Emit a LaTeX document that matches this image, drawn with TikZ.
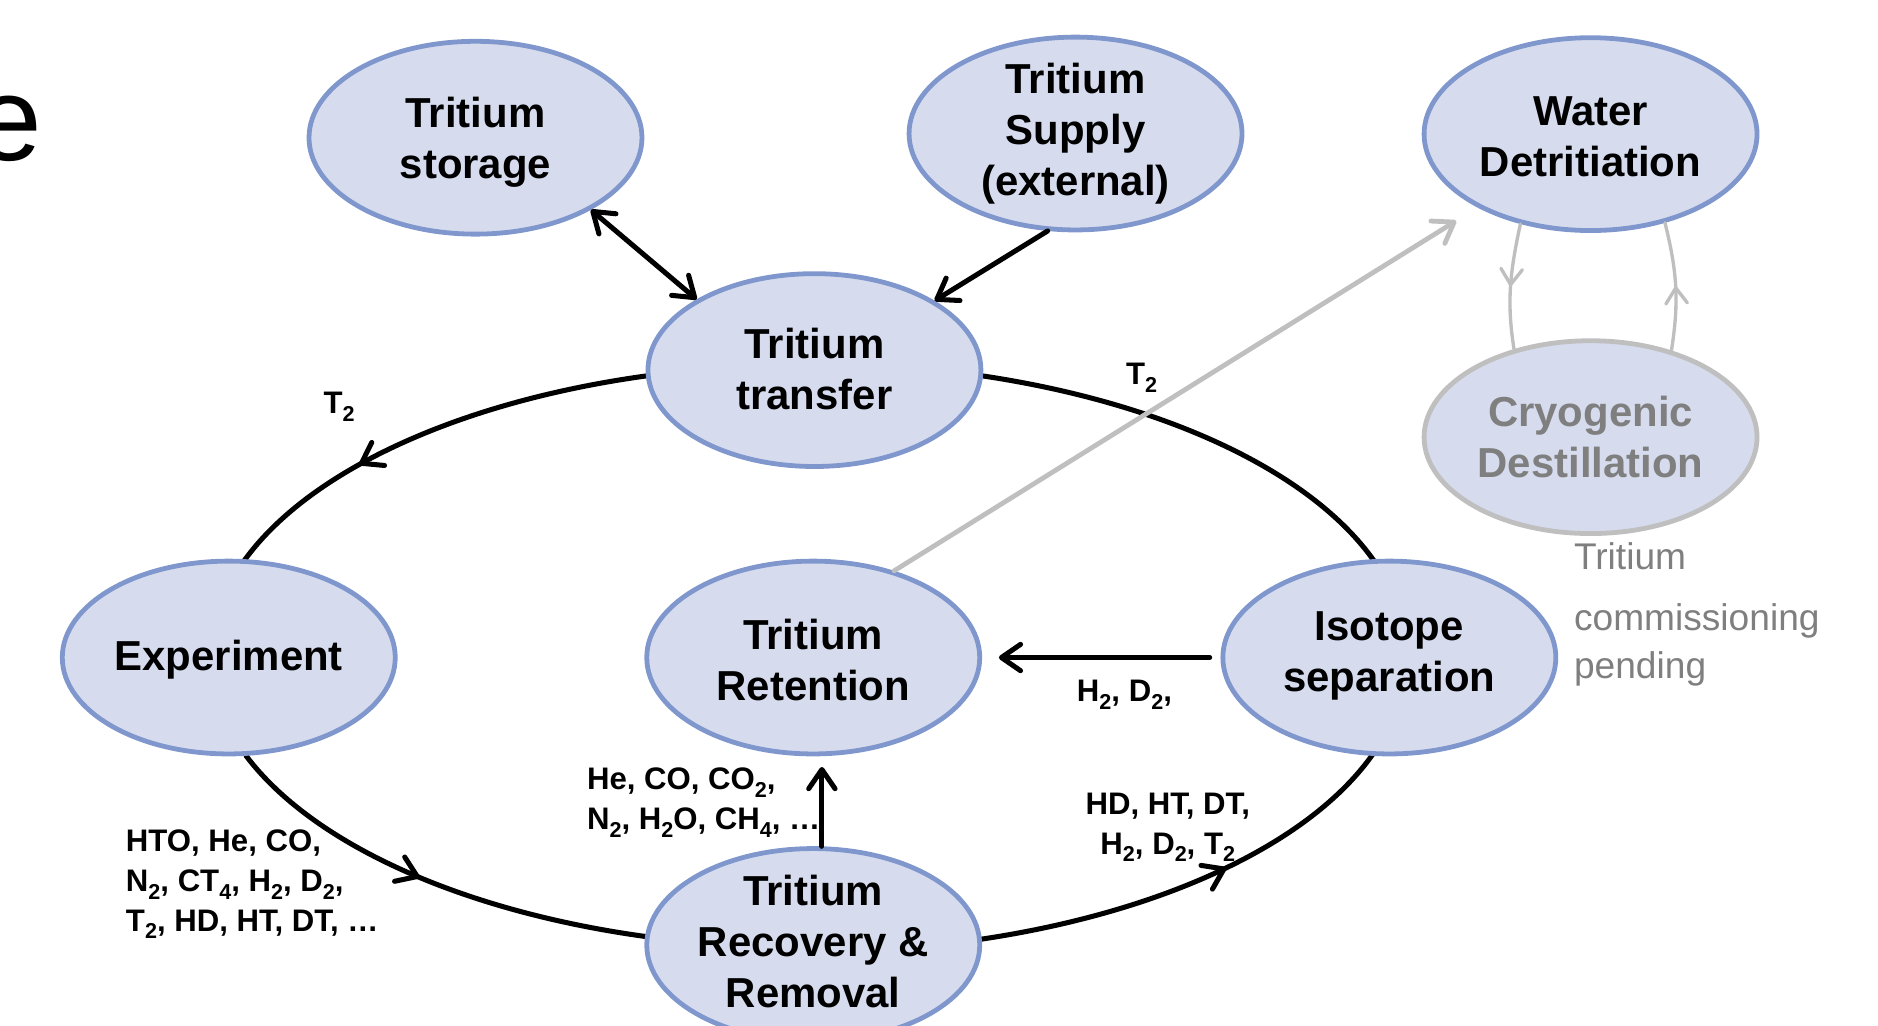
\documentclass[tikz,border=0pt]{standalone}
\usepackage{fontspec}
\setmainfont{Liberation Sans}
\usetikzlibrary{shapes.geometric, arrows.meta, decorations.markings}
\pgfdeclarelayer{background}
\pgfsetlayers{background,main}
\definecolor{cellfill}{HTML}{D6DCEE}
\definecolor{cellborder}{HTML}{7F97CC}
\definecolor{greyline}{HTML}{BFBFBF}
\definecolor{greytext}{HTML}{7F7F7F}
\newcommand\bigfont{\fontsize{35}{42.5}\selectfont\bfseries}
\newcommand\smallfont{\fontsize{26}{33}\selectfont\bfseries}
\newcommand\notefont{\fontsize{31}{40}\selectfont}
\newcommand\titlefont{\fontsize{100}{110}\selectfont}
\newcommand\chemsub[1]{\raisebox{-6.5pt}{\fontsize{18}{18}\selectfont #1}}
\begin{document}
\begin{tikzpicture}[x=1pt,y=1pt,
  >={Straight Barb[round,length=16pt,width=22pt]},
  cell/.style={ellipse, draw=cellborder, fill=cellfill, line width=4pt,
    minimum width=278pt, minimum height=161pt, inner sep=0pt},
  greycell/.style={cell, draw=greyline},
  lbl/.style={font=\bigfont, align=center, text=black, inner sep=0pt},
  greylbl/.style={lbl, text=greytext},
  small/.style={font=\smallfont, inner sep=0pt, align=left},
  flow/.style={line width=4.2pt, line cap=round, ->},
  cyc/.style={line width=4.2pt, line cap=round},
  greyflow/.style={line width=4pt, line cap=round, draw=greyline, ->},
  greycurve/.style={line width=2.8pt, line cap=round, draw=greyline},
  blackmid/.style={postaction={decorate, decoration={markings,
    mark=at position #1 with {\arrow{>}}}}},
  greymid/.style={postaction={decorate, decoration={markings,
    mark=at position #1 with {\arrow{Straight Barb[round,length=13pt,width=18pt]}}}}}
]
\useasboundingbox (0,0) rectangle (1568,856);

% cut-off slide title letter
\node[anchor=base west, font=\titlefont, inner sep=0pt] (title) at (-21,722) {e};

% nodes
\node[cell, label={[lbl, yshift=-4pt]center:Tritium\\storage}] (storage) at (397,741) {};
\node[cell, label={[lbl]center:Tritium\\Supply\\(external)}] (supply) at (898,744.5) {};
\node[cell, label={[lbl, yshift=-2pt]center:Water\\Detritiation}] (water) at (1328,744) {};
\node[cell, label={[lbl, yshift=1pt]center:Tritium\\transfer}] (transfer) at (680,547) {};
\node[greycell, label={[greylbl]center:Cryogenic\\Destillation}] (cryo) at (1328,491) {};
\node[cell, label={[lbl, yshift=-2pt]center:Experiment}] (experiment) at (191,307) {};
\node[cell, label={[lbl, yshift=-2pt]center:Tritium\\Retention}] (retention) at (679,307) {};
\node[cell, label={[lbl, yshift=1pt]center:Isotope\\separation}] (isotope) at (1160,307) {};
\node[cell, label={[lbl, yshift=3pt]center:Tritium\\Recovery \&\\Removal}] (recovery) at (679,67) {};

% main cycle
\begin{pgfonlayer}{background}
\draw[cyc, blackmid=0.654] (transfer.182) arc[start angle=105.8, end angle=162, x radius=500, y radius=245];
\draw[cyc] (transfer.358) arc[start angle=73, end angle=18, x radius=500, y radius=245];
\draw[cyc, blackmid=0.46] (experiment.280) arc[start angle=200.3, end angle=256, x radius=500, y radius=245];
\draw[cyc, blackmid=0.569] (recovery.2) arc[start angle=287, end angle=342, x radius=500, y radius=245];
\end{pgfonlayer}

% straight connectors
\draw[flow, <->] (storage.328) -- (transfer.149);
\draw[flow] (supply.254) -- (transfer.30);
\draw[flow, shorten <=9pt, shorten >=14pt] (isotope) -- (retention);
\draw[flow, shorten >=9pt] (recovery.85) -- (retention.275);

% grey connectors
\draw[greyflow, shorten >=21pt] (retention.47) -- (water.213);
\draw[greycurve, greymid=0.5] (water.232) to[out=258,in=99] (cryo.131);
\draw[greycurve, greymid=0.5] (cryo.47) to[out=81,in=284] (water.310);

% labels
\node[small, anchor=north west] (lblA) at (270,529) {T\chemsub{2}};
\node[small, anchor=north west] (lblB) at (940,553) {T\chemsub{2}};
\node[small, anchor=north west] (lblC) at (899,288) {H\chemsub{2}, D\chemsub{2},};
\node[small, anchor=north west] (lblD) at (490,215) {He, CO, CO\chemsub{2},\\N\chemsub{2}, H\chemsub{2}O, CH\chemsub{4}, …};
\node[small, anchor=north west] (lblE) at (105,163) {HTO, He, CO,\\N\chemsub{2}, CT\chemsub{4}, H\chemsub{2}, D\chemsub{2},\\T\chemsub{2}, HD, HT, DT, …};
\node[small, anchor=north, align=center] (lblF) at (975,194) {HD, HT, DT,\\H\chemsub{2}, D\chemsub{2}, T\chemsub{2}};
\node[anchor=north west, font=\notefont, text=greytext, align=left, inner sep=0pt] (note) at (1314,403) {Tritium\\[11pt]commissioning\\pending};
\end{tikzpicture}
\end{document}
